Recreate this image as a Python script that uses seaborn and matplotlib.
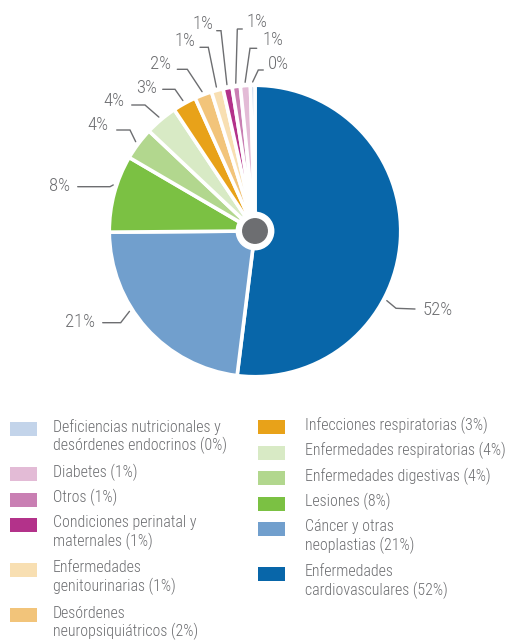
import numpy as np
import matplotlib
matplotlib.use("Agg")
import matplotlib.pyplot as plt
import seaborn as sns
from matplotlib.patches import Rectangle, Circle

# datos en el orden del pastel (sentido horario desde arriba)
categorias = ["Enfermedades\ncardiovasculares", "Cáncer y otras\nneoplastias", "Lesiones",
              "Enfermedades digestivas", "Enfermedades respiratorias", "Infecciones respiratorias",
              "Desórdenes\nneuropsiquiátricos", "Enfermedades\ngenitourinarias",
              "Condiciones perinatal y\nmaternales", "Otros", "Diabetes",
              "Deficiencias nutricionales y\ndesórdenes endocrinos"]
valores = [51.7, 22.8, 8.5, 3.6, 3.6, 2.6, 1.9, 1.3, 1.0, 0.9, 1.1, 0.5]
porcentajes = [52, 21, 8, 4, 4, 3, 2, 1, 1, 1, 1, 0]
colores = ["#0866a9", "#719fcd", "#7bc143", "#b2d78e", "#d8eac5", "#e8a219",
           "#f2c47a", "#f8dfb2", "#b3328a", "#c97fb3", "#e3bbd6", "#c3d4ea"]

GRIS = "#6d6e71"
CX, CY, R = 255, 231, 144   # centro y radio del pastel en pixeles

sns.set_style("white")
plt.rcParams["font.family"] = ["Roboto Condensed", "DejaVu Sans"]
plt.rcParams["font.weight"] = "light"

fig = plt.figure(figsize=(5.09, 6.42), dpi=100)
ax = fig.add_axes([0, 0, 1, 1])


def px(x, y):
    return (x - CX) / R, (CY - y) / R


wedges, _ = ax.pie(valores, colors=colores, startangle=90, counterclock=False,
                   radius=1.012, wedgeprops=dict(edgecolor="white", linewidth=2.6))
ax.add_patch(Circle((0, 0), 0.13, color="white", zorder=5))
ax.add_patch(Circle((0, 0), 0.085, color=GRIS, zorder=6))

# etiquetas con lineas guia: (fraccion en la cuña, codo, fin de linea, texto x, texto y, alineacion)
guias = [
    (0.63, (396, 308.3), (415, 309), 423, 310, "left"),
    (0.61, (120.7, 322.7), (102.7, 322.7), 95, 322, "right"),
    (0.60, (110, 186.7), (77.7, 186.7), 70, 186, "right"),
    (0.5, (130, 130), (116.7, 130), 108, 125, "right"),
    (0.5, (145, 105), (131.7, 105), 124, 100.7, "right"),
    (0.5, (175, 89.3), (162.7, 89.3), 157, 87.7, "right"),
    (0.5, (187.3, 69.3), (177.3, 69.3), 171, 64, "right"),
    (0.5, (208.3, 47.3), (200, 47.3), 195, 41, "right"),
    (0.5, (221, 30.7), (216.7, 30.7), 213, 24, "right"),
    (0.5, (237.3, 29), (242.3, 29), 247, 21.7, "left"),
    (0.5, (250, 48.3), (256.7, 48.3), 262, 40, "left"),
    (0.5, (258.3, 70), (263.3, 70), 268, 64.3, "left"),
]

for w, p, (f, codo, fin, tx, ty, ha) in zip(wedges, porcentajes, guias):
    ang = np.deg2rad(w.theta2 - f * (w.theta2 - w.theta1))
    inicio = (1.035 * np.cos(ang), 1.035 * np.sin(ang))
    c = px(*codo)
    e = px(*fin)
    ax.plot([inicio[0], c[0], e[0]], [inicio[1], c[1], e[1]], color=GRIS, lw=1.0,
            solid_joinstyle="miter", clip_on=False)
    x, y = px(tx, ty)
    ax.text(x, y, f"{p}%", ha=ha, va="center", fontsize=13.5, color=GRIS)

# leyenda en dos columnas (orden inverso al pastel)
orden = list(range(len(valores)))[::-1]
columnas = [(orden[:6], 10, 53, 429), (orden[6:], 258, 305, 427)]
for idx, xsq, xtxt, y0 in columnas:
    y = y0
    for i in idx:
        lineas = f"{categorias[i]} ({porcentajes[i]}%)".split("\n")
        x0, yy = px(xsq, y - 7)
        ax.add_patch(Rectangle((x0, yy), 27 / R, -14 / R, facecolor=colores[i],
                               edgecolor="none", clip_on=False))
        for k, linea in enumerate(lineas):
            tx, ty = px(xtxt, y - 2 + 18.5 * k)
            ax.text(tx, ty, linea, ha="left", va="center", fontsize=11.4, color=GRIS)
        y += 25.5 + 19.5 * (len(lineas) - 1)

ax.set_xlim(-CX / R, (509 - CX) / R)
ax.set_ylim(-(642 - CY) / R, CY / R)
ax.set_aspect("auto")
ax.axis("off")

fig.savefig("out.png", dpi=100)
